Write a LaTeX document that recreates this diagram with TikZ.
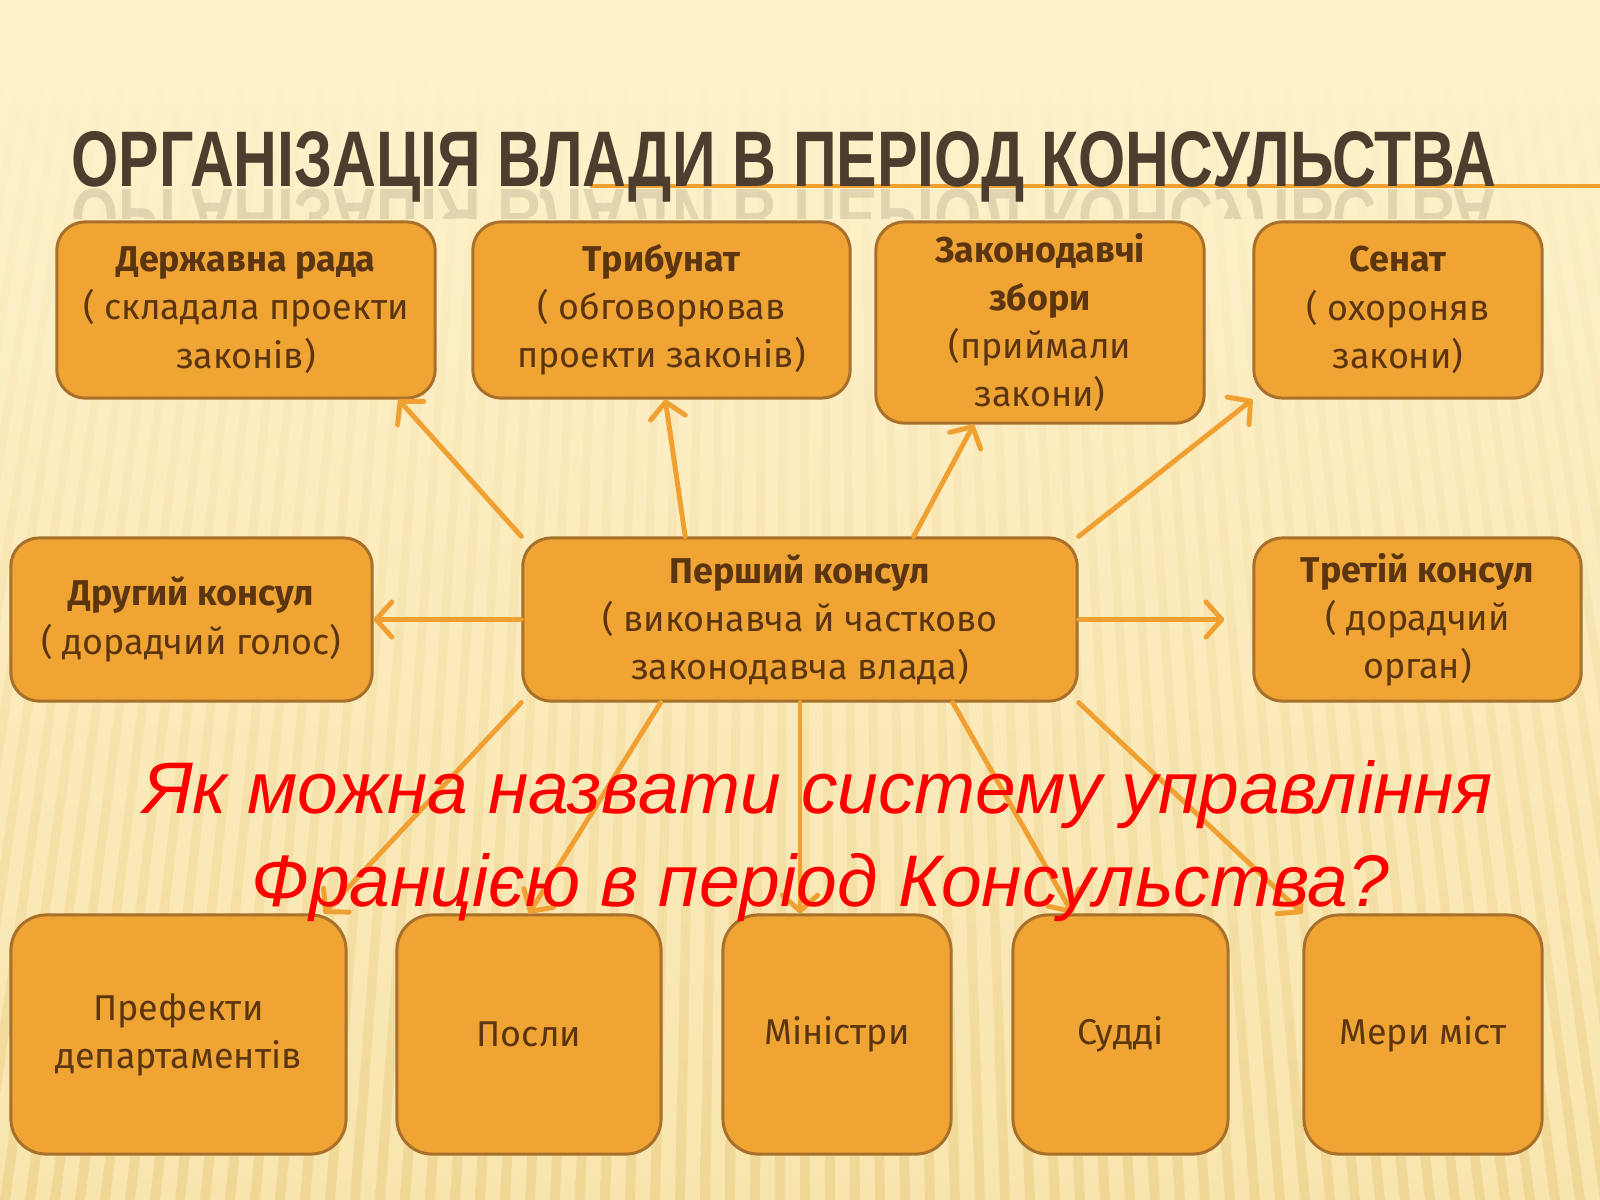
\documentclass[tikz,border=0pt]{standalone}
\usepackage{fontspec}
\usepackage{graphicx}
\setmainfont{Fira Sans}
\newfontfamily\titlefont{Liberation Sans}
\usetikzlibrary{arrows.meta, calc}

\definecolor{bgtop}{HTML}{FEF2CB}
\definecolor{bgbottom}{HTML}{F8E5AE}
\definecolor{stripe}{HTML}{EBCF86}
\definecolor{boxfill}{HTML}{F0A434}
\definecolor{boxline}{HTML}{A8702A}
\definecolor{boxtext}{HTML}{5A3510}
\definecolor{titletext}{HTML}{4D3D2E}
\definecolor{linkline}{HTML}{F0A030}
\definecolor{askred}{HTML}{FF0000}

\newcommand{\titletxt}{\resizebox{14.24cm}{0.55cm}{\titlefont\bfseries ОРГАНІЗАЦІЯ ВЛАДИ В ПЕРІОД КОНСУЛЬСТВА}}

\begin{document}
\begin{tikzpicture}[
  x=0.01cm, y=-0.01cm,
  organ/.style = {
    draw=boxline, fill=boxfill, line width=0.85pt, rounded corners=8pt,
    text=boxtext, align=center, inner sep=0pt,
    font=\fontsize{10.2}{13.7}\selectfont
  },
  upper/.style = {organ, minimum height=1.76cm},
  middle/.style = {organ, minimum height=1.63cm},
  lower/.style = {organ, rounded corners=10pt, minimum height=2.39cm},
  ask/.style = {anchor=base, inner sep=0pt, text=askred,
    font=\titlefont\itshape\fontsize{20.8}{27}\selectfont},
  link/.style = {draw=linkline, line width=1.4pt, line cap=round,
    -{Straight Barb[length=4.5pt, width=10pt, round]}}
]
\useasboundingbox (0,0) rectangle (1600,1200);

% background with fanned stripes
\fill[bgtop] (0,0) rectangle (1600,1200);
\shade[top color=bgtop, bottom color=bgbottom] (0,60) rectangle (1600,1200);
\begin{scope}
  \clip (0,0) rectangle (1600,1200);
  \foreach \x in {-240,-220,...,1840}
    \shade[top color=bgtop, bottom color=stripe, opacity=0.6]
      (\x,60) -- (\x+8,60) -- ({800+(\x+8-800)*1.25},1200)
      -- ({800+(\x-800)*1.25},1200) -- cycle;
\end{scope}

% title with its reflection
\draw[linkline, line width=0.9pt] (590,186) -- (1600,186);
\node[anchor=base west, inner sep=0pt, text=titletext] (title) at (71,186) {\titletxt};
\begin{scope}
  \clip (0,188) rectangle (1600,218);
  \node[anchor=base west, inner sep=0pt, text=titletext, opacity=0.15] (mirror)
    at (71,189) {\scalebox{1}[-1]{\titletxt}};
\end{scope}

% upper row
\node[upper, minimum width=3.78cm] (rada) at (246,310)
  {\textbf{Державна рада}\\( складала проекти\\законів)};
\node[upper, minimum width=3.77cm] (tribunat) at (661.5,310)
  {\textbf{Трибунат}\\( обговорював\\проекти законів)};
\node[organ, minimum width=3.28cm, minimum height=2.01cm] (zbory) at (1040,322.5)
  {\textbf{Законодавчі}\\\textbf{збори}\\(приймали\\закони)};
\node[upper, minimum width=2.88cm] (senat) at (1398,310)
  {\textbf{Сенат}\\( охороняв\\закони)};

% consuls
\node[middle, minimum width=3.61cm] (drugyi) at (191.5,619.5)
  {\textbf{Другий консул}\\( дорадчий голос)};
\node[middle, minimum width=5.54cm] (pershyi) at (800,619.5)
  {\textbf{Перший консул}\\( виконавча й частково\\законодавча влада)};
\node[middle, minimum width=3.27cm] (tretii) at (1417.5,619.5)
  {\textbf{Третій консул}\\( дорадчий\\ орган)};

% lower row
\node[lower, minimum width=3.35cm] (prefekty) at (178.5,1034.5) {Префекти\\департаментів};
\node[lower, minimum width=2.64cm] (posly) at (529,1034.5) {Посли};
\node[lower, minimum width=2.28cm] (ministry) at (837,1034.5) {Міністри};
\node[lower, minimum width=2.15cm] (suddi) at (1120.5,1034.5) {Судді};
\node[lower, minimum width=2.38cm] (mery) at (1423,1034.5) {Мери міст};

% links from the first consul
\draw[link] (pershyi.north west) -- ($(rada.south west)!0.9!(rada.south east)$);
\draw[link] ($(pershyi.north west)!0.294!(pershyi.north east)$)
  -- ($(tribunat.south west)!0.51!(tribunat.south east)$);
\draw[link] ($(pershyi.north west)!0.704!(pershyi.north east)$)
  -- ($(zbory.south west)!0.3!(zbory.south east)$);
\draw[link] (pershyi.north east) -- (senat.south west);
\draw[link] (pershyi.west) -- (drugyi.east);
\draw[link, shorten >=8pt] (pershyi.east) -- (tretii.west);
\draw[link] (pershyi.south west) -- ($(prefekty.north west)!0.93!(prefekty.north east)$);
\draw[link] ($(pershyi.south west)!0.25!(pershyi.south east)$) -- (posly.north);
\draw[link] (pershyi.south) -- (pershyi.south |- ministry.north);
\draw[link] ($(pershyi.south west)!0.774!(pershyi.south east)$)
  -- ($(suddi.north west)!0.28!(suddi.north east)$);
\draw[link] (pershyi.south east) -- (mery.north west);

% the question over the links
\node[ask] (ask1) at (818,813) {Як можна назвати систему управління};
\node[ask] (ask2) at (820,906) {Францією в період Консульства?};

\end{tikzpicture}
\end{document}
